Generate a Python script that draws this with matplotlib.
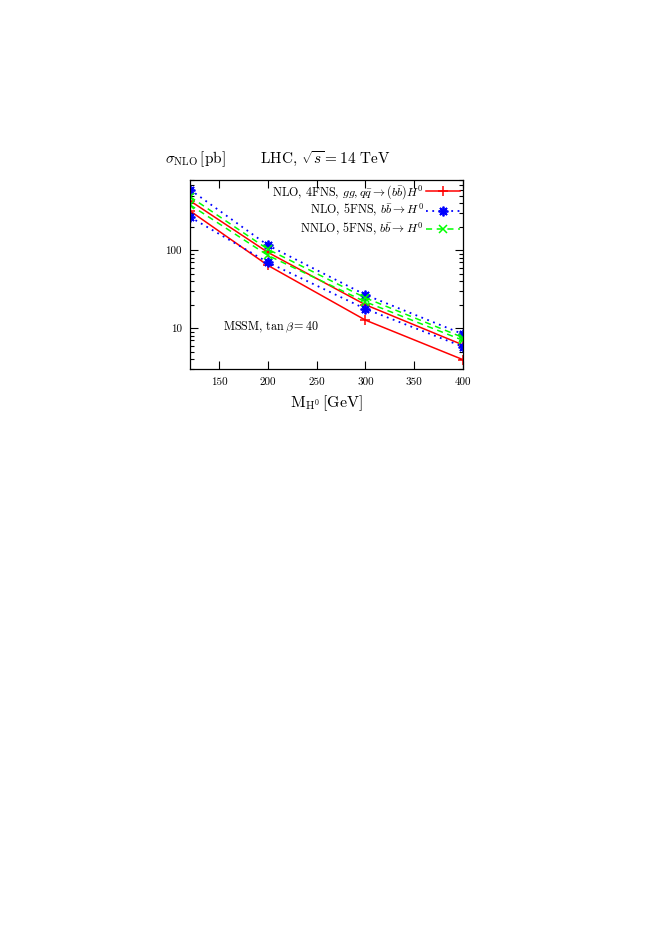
import numpy as np
import matplotlib
matplotlib.use('Agg')
import matplotlib.pyplot as plt
from matplotlib.ticker import NullFormatter, LogLocator

plt.rcParams['font.family'] = 'serif'
plt.rcParams['font.serif'] = ['cmr10', 'DejaVu Serif']
plt.rcParams['mathtext.fontset'] = 'cm'
plt.rcParams['axes.unicode_minus'] = False
plt.rcParams['axes.formatter.use_mathtext'] = True

# Higgs mass points [GeV]
mass = [120, 200, 300, 400]
# cross sections [pb], upper / lower edge of each band
nlo4_hi = [433, 94, 20, 6.1]
nlo4_lo = [321, 64, 12.7, 3.95]
nlo5_hi = [601, 116, 26.8, 8.4]
nlo5_lo = [268, 70, 17.7, 5.8]
nnlo5_hi = [488, 103, 24.5, 7.6]
nnlo5_lo = [384, 86, 21.8, 7.0]

xticks = [150, 200, 250, 300, 350, 400]
yticks = [10, 100]

fig = plt.figure(figsize=(6.62, 9.36), dpi=100)
ax = fig.add_axes([0.287, 0.6058, 0.4124, 0.2019])

star = (8, 2, 0)
l1, = ax.plot(mass, nlo4_hi, color='#ff0000', lw=1.1, marker='+', ms=7, mew=1.1)
ax.plot(mass, nlo4_lo, color='#ff0000', lw=1.1, marker='+', ms=7, mew=1.1)
l2, = ax.plot(mass, nlo5_hi, color='#0000ff', lw=1.3, ls=(0, (1, 2.5)), marker=star, ms=7, mew=1.3)
ax.plot(mass, nlo5_lo, color='#0000ff', lw=1.3, ls=(0, (1, 2.5)), marker=star, ms=7, mew=1.3)
l3, = ax.plot(mass, nnlo5_hi, color='#00ff00', lw=1.1, ls=(0, (4, 3)), marker='x', ms=6, mew=1.1)
ax.plot(mass, nnlo5_lo, color='#00ff00', lw=1.1, ls=(0, (4, 3)), marker='x', ms=6, mew=1.1)

ax.set_yscale('log')
ax.set_xlim(120, 400)
ax.set_ylim(3, 800)
ax.set_xticks(xticks)
ax.set_xticklabels([str(t) for t in xticks])
ax.set_yticks(yticks)
ax.set_yticklabels([str(t) for t in yticks])
ax.yaxis.set_minor_locator(LogLocator(base=10, subs=np.arange(2, 10)))
ax.yaxis.set_minor_formatter(NullFormatter())
ax.tick_params(which='both', direction='in', top=True, right=True, labelsize=8, width=0.8)
ax.tick_params(which='major', length=6, pad=6)
ax.tick_params(which='minor', length=3)
for s in ax.spines.values():
    s.set_linewidth(0.9)

leg = ax.legend([l1, l2, l3],
                [r'NLO, 4FNS, $gg,q\bar{q}\to(b\bar{b})H^0$',
                 r'NLO, 5FNS, $b\bar{b}\to H^0$',
                 r'NNLO, 5FNS, $b\bar{b}\to H^0$'],
                loc='upper right', frameon=False, markerfirst=False,
                fontsize=8.7, handlelength=2.8, handletextpad=0.2,
                borderaxespad=0.05, borderpad=0.2, labelspacing=0.12)
for t in leg.get_texts():
    t.set_ha('right')

ax.text(0.12, 0.205, r'MSSM, $\tan\beta = 40$', transform=ax.transAxes, fontsize=8.7)

fig.text(0.249, 0.826, r'$\sigma_{\rm NLO}\,[{\rm pb}]$', fontsize=11)
fig.text(0.392, 0.826, r'LHC, $\sqrt{s} = 14$ TeV', fontsize=11)
ax.set_xlabel(r'M$_{\rm H^0}\,$[GeV]', fontsize=11.5, labelpad=5)

fig.savefig('out.png', dpi=100)
